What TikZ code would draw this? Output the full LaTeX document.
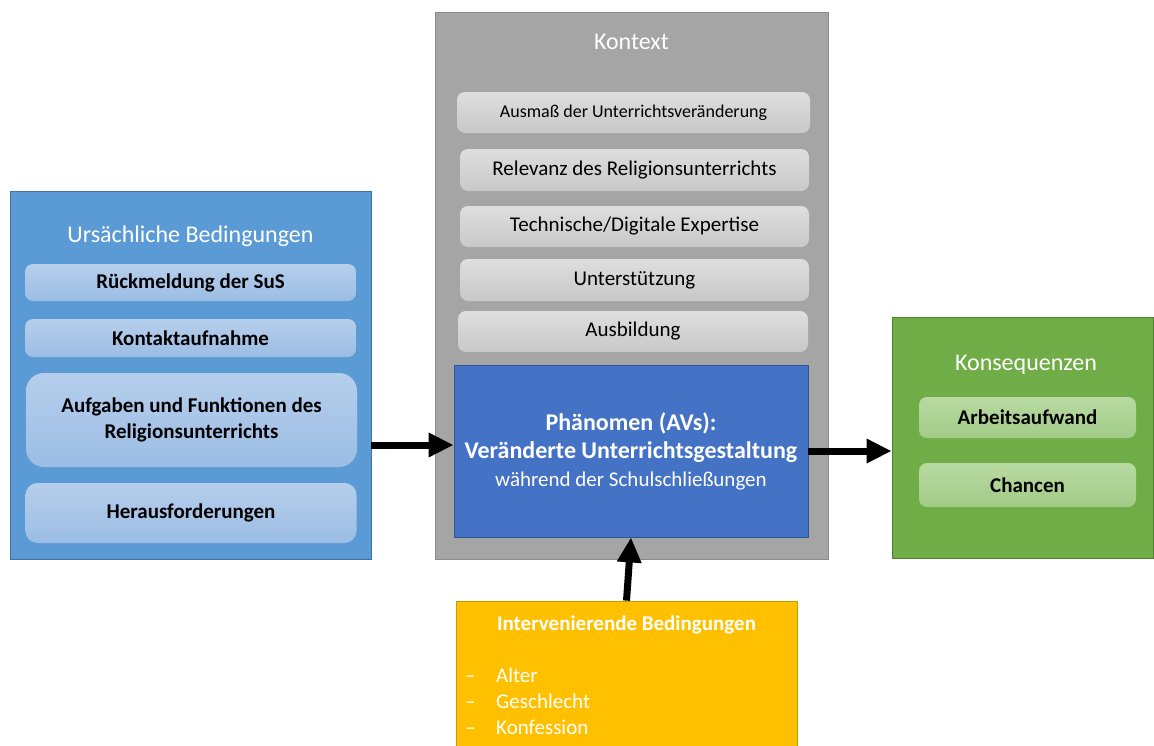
\documentclass[tikz,border=0pt]{standalone}
\usepackage{fontspec}
\setmainfont{Carlito}
\usetikzlibrary{arrows.meta}

\definecolor{bluePanel}{HTML}{5B9BD5}
\definecolor{blueEdge}{HTML}{41719C}
\definecolor{blueTop}{RGB}{182,206,236}
\definecolor{blueBot}{RGB}{155,189,228}
\definecolor{grayPanel}{HTML}{A5A5A5}
\definecolor{grayEdge}{HTML}{8A8A8A}
\definecolor{grayTop}{RGB}{222,222,222}
\definecolor{grayBot}{RGB}{200,200,200}
\definecolor{phenFill}{HTML}{4472C4}
\definecolor{phenEdge}{HTML}{2F5597}
\definecolor{yellowFill}{HTML}{FFC000}
\definecolor{yellowEdge}{HTML}{C99A00}
\definecolor{greenPanel}{HTML}{70AD47}
\definecolor{greenEdge}{HTML}{507E32}
\definecolor{greenTop}{RGB}{184,218,162}
\definecolor{greenBot}{RGB}{162,203,135}

\begin{document}
\begin{tikzpicture}[x=1pt,y=-1pt,
  panel/.style={draw, line width=0.8pt, inner sep=0pt, anchor=center},
  paneltitle/.style={text=white, font=\fontsize{24}{28}\selectfont, inner sep=0pt},
  item/.style={draw=none, rounded corners=8pt, inner sep=0pt, align=center},
  blueitem/.style={item, top color=blueTop, bottom color=blueBot, minimum width=331pt,
    font=\bfseries\fontsize{21}{25}\selectfont},
  grayitem/.style={item, top color=grayTop, bottom color=grayBot,
    font=\fontsize{21}{25}\selectfont},
  greenitem/.style={item, top color=greenTop, bottom color=greenBot, minimum width=217pt,
    font=\bfseries\fontsize{21}{25}\selectfont},
  flow/.style={line width=7pt, -{Triangle[length=25pt,width=23pt]}}
]
\useasboundingbox (0,0) rectangle (1154,745);
\clip (0,0) rectangle (1154,745);

% Causal conditions
\node[panel, fill=bluePanel, draw=blueEdge, minimum width=361pt, minimum height=368pt] (ursach) at (190.5,375) {};
\node[paneltitle] (ursachTitle) at (190.5,236) {Ursächliche Bedingungen};
\node[blueitem, minimum height=37pt] (rueck) at (190.5,282.5) {Rückmeldung der SuS};
\node[blueitem, minimum height=38pt] (kontakt) at (190.5,338) {Kontaktaufnahme};
\node[blueitem, minimum height=94pt, rounded corners=18pt, font=\bfseries\fontsize{21}{25.5}\selectfont] (aufgaben) at (191.5,420) {Aufgaben und Funktionen des\\Religionsunterrichts};
\node[blueitem, minimum height=60pt, rounded corners=12pt] (heraus) at (191,513) {Herausforderungen};

% Context
\node[panel, fill=grayPanel, draw=grayEdge, minimum width=393pt, minimum height=547pt] (kontext) at (631.5,285.5) {};
\node[paneltitle] (kontextTitle) at (631.5,42) {Kontext};
\node[grayitem, minimum width=353pt, minimum height=41pt, font=\fontsize{18}{22}\selectfont] (ausmass) at (633.5,112.5) {Ausmaß der Unterrichtsveränderung};
\node[grayitem, minimum width=349pt, minimum height=42pt] (relevanz) at (634.5,170) {Relevanz des Religionsunterrichts};
\node[grayitem, minimum width=349pt, minimum height=41pt] (technik) at (634.5,226.5) {Technische/Digitale Expertise};
\node[grayitem, minimum width=349pt, minimum height=42pt] (unterst) at (634.5,280) {Unterstützung};
\node[grayitem, minimum width=350pt, minimum height=41pt] (ausbild) at (633,331.5) {Ausbildung};

% Phenomenon box and its three-line caption
\node[panel, fill=phenFill, draw=phenEdge, minimum width=354pt, minimum height=172pt] (phaen) at (631,451) {};
\node[text=white, align=center, inner sep=0pt, font=\bfseries\fontsize{24}{28}\selectfont] (phaenText) at (631,451)
  {Phänomen (AVs):\\
   Veränderte Unterrichtsgestaltung\\
   {\mdseries\fontsize{21}{28}\selectfont während der Schulschließungen}};

% Intervening conditions
\node[panel, fill=yellowFill, draw=yellowEdge, minimum width=341pt, minimum height=158pt] (interv) at (626.5,680) {};
\node[text=white, font=\bfseries\fontsize{21}{25}\selectfont, inner sep=0pt] (intervTitle) at (626.5,625) {Intervenierende Bedingungen};
\node[text=white, font=\fontsize{21}{26}\selectfont, inner sep=0pt, align=left, anchor=west] (intervList) at (465,701)
  {\makebox[31pt][l]{–}Alter\\ \makebox[31pt][l]{–}Geschlecht\\ \makebox[31pt][l]{–}Konfession};

% Consequences
\node[panel, fill=greenPanel, draw=greenEdge, minimum width=261pt, minimum height=241pt] (konseq) at (1022.5,437.5) {};
\node[paneltitle] (konseqTitle) at (1026,365) {Konsequenzen};
\node[greenitem, minimum height=41pt] (arbeit) at (1027.5,417.5) {Arbeitsaufwand};
\node[greenitem, minimum height=44pt] (chancen) at (1027.5,485) {Chancen};

% Connectors
\draw[flow] ([yshift=-70pt]ursach.east) -- ([yshift=6pt]phaen.west);
\draw[flow] (phaen.east) -- (konseq.west |- phaen.east);
\draw[flow] (interv.north) -- (phaen.south);
\end{tikzpicture}
\end{document}
